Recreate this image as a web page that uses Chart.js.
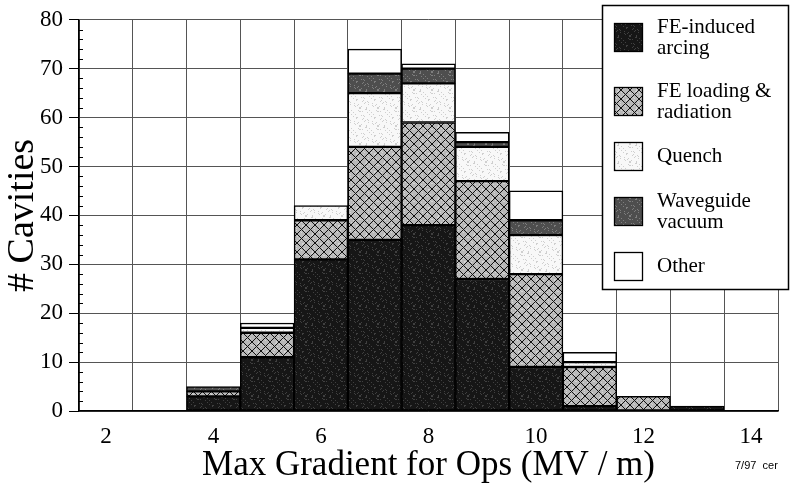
<!DOCTYPE html>
<html>
<head>
<meta charset="utf-8">
<script src="https://cdn.jsdelivr.net/npm/chart.js@4.4.1/dist/chart.umd.min.js"></script>
<style>
  html, body { margin: 0; padding: 0; background: #fff; }
  #wrap { width: 790px; height: 490px; position: relative; }
</style>
</head>
<body>
<div id="wrap"><canvas id="gradChart" width="790" height="490"></canvas></div>
<script>
// Histogram bins (MV/m) and cavity counts per failure mode
const gradients = ["2", "3", "4", "5", "6", "7", "8", "9", "10", "11", "12", "13", "14"];
const feArcing  = [0, 0, 3, 11, 31, 35, 38, 27, 9, 1, 0, 1, 0];
const feLoading = [0, 0, 1, 5, 8, 19, 21, 20, 19, 8, 3, 0, 0];
const quench    = [0, 0, 0, 1, 3, 11, 8, 7, 8, 1, 0, 0, 0];
const waveguide = [0, 0, 1, 0, 0, 4, 3, 1, 3, 0, 0, 0, 0];
const other     = [0, 0, 0, 1, 0, 5, 1, 2, 6, 2, 0, 0, 0];

const seriesNames = ["FE-induced arcing", "FE loading & radiation", "Quench", "Waveguide vacuum", "Other"];
const legendLines = [["FE-induced", "arcing"], ["FE loading &", "radiation"], ["Quench"], ["Waveguide", "vacuum"], ["Other"]];

const serif = "'Liberation Serif', 'Times New Roman', serif";

// small tiled fills that mimic the printed textures
function makePattern(base, speck, hatch) {
  const c = document.createElement("canvas");
  c.width = 18; c.height = 18;
  const g = c.getContext("2d");
  g.fillStyle = base;
  g.fillRect(0, 0, 18, 18);
  if (speck) {
    g.fillStyle = speck;
    for (let x = 0; x < 18; x++) {
      for (let y = 0; y < 18; y++) {
        if ((x * 37 + y * 91 + x * y * 13) % 17 < 2) g.fillRect(x, y, 1, 1);
      }
    }
  }
  if (hatch) {
    g.strokeStyle = hatch;
    g.lineWidth = 1;
    g.beginPath();
    for (let k = -18; k <= 18; k += 9) {
      g.moveTo(k - 1, -1); g.lineTo(k + 19, 19);
      g.moveTo(k - 1, 19); g.lineTo(k + 19, -1);
    }
    g.stroke();
  }
  return g.createPattern(c, "repeat");
}

const fills = [
  makePattern("#161616", "#404040"),
  makePattern("#b8b8b8", "#d4d4d4", "#111111"),
  makePattern("#f8f8f8", "#cfcfcf"),
  makePattern("#4e4e4e", "#7e7e7e"),
  "#ffffff"
];

const seriesData = [feArcing, feLoading, quench, waveguide, other];

// zero counts are left out so no empty outlines are drawn
const datasets = seriesData.map((vals, i) => ({
  label: seriesNames[i],
  data: vals.map((v) => (v === 0 ? null : v)),
  backgroundColor: fills[i],
  borderColor: "#000",
  borderWidth: 1.5,
  borderSkipped: false,
  barPercentage: 1.0,
  categoryPercentage: 1.0
}));

// minor tick marks on the inside of the y axis
const minorTicks = {
  id: "minorTicks",
  afterDatasetsDraw(chart) {
    const { ctx, scales: { y }, chartArea } = chart;
    ctx.save();
    ctx.strokeStyle = "#000";
    ctx.lineWidth = 1;
    for (let v = 2; v < 80; v += 2) {
      if (v % 10 === 0) continue;
      const py = Math.round(y.getPixelForValue(v)) + 0.5;
      ctx.beginPath();
      ctx.moveTo(chartArea.left, py);
      ctx.lineTo(chartArea.left + 4, py);
      ctx.stroke();
    }
    ctx.restore();
  }
};

// boxed legend sitting over the top right of the plot
const boxLegend = {
  id: "boxLegend",
  afterDraw(chart) {
    const ctx = chart.ctx;
    const tops = [23, 87, 142, 197, 252];
    ctx.save();
    ctx.fillStyle = "#fff";
    ctx.fillRect(602, 5, 187, 285);
    ctx.strokeStyle = "#000";
    ctx.lineWidth = 1.5;
    ctx.strokeRect(602.5, 5.5, 186, 284);
    ctx.font = "21px " + serif;
    ctx.textBaseline = "alphabetic";
    chart.data.datasets.forEach((ds, i) => {
      const t = tops[i];
      ctx.fillStyle = ds.backgroundColor;
      ctx.fillRect(614, t, 29, 29);
      ctx.lineWidth = 1.3;
      ctx.strokeStyle = "#000";
      ctx.strokeRect(614.5, t + 0.5, 28, 28);
      ctx.fillStyle = "#000";
      const lines = legendLines[i];
      if (lines.length === 2) {
        ctx.fillText(lines[0], 657, t + 10);
        ctx.fillText(lines[1], 657, t + 31);
      } else {
        ctx.fillText(lines[0], 657, t + 20);
      }
    });
    ctx.font = "11px 'Liberation Sans', Arial, sans-serif";
    ctx.fillText("7/97  cer", 735, 469);
    ctx.restore();
  }
};

const ctx = document.getElementById("gradChart").getContext("2d");
new Chart(ctx, {
  type: "bar",
  data: { labels: gradients, datasets: datasets },
  options: {
    responsive: false,
    animation: false,
    layout: { padding: { top: 17, right: 12, left: 0, bottom: 0 } },
    plugins: {
      legend: { display: false },
      tooltip: { enabled: false }
    },
    scales: {
      x: {
        stacked: true,
        offset: true,
        grid: { offset: true, color: "#555", lineWidth: 1, drawTicks: false },
        border: { color: "#000", width: 1.5 },
        ticks: {
          autoSkip: false,
          maxRotation: 0,
          padding: 12,
          color: "#000",
          font: { family: serif, size: 23 },
          callback: function (value) {
            const lbl = this.getLabelForValue(value);
            return Number(lbl) % 2 === 0 ? lbl : "";
          }
        },
        title: {
          display: true,
          text: "Max Gradient for Ops (MV / m)",
          color: "#000",
          font: { family: serif, size: 35, lineHeight: 1.2 },
          padding: { top: 0, bottom: 3 }
        },
        afterFit: (s) => { s.height = 79; }
      },
      y: {
        stacked: true,
        min: 0,
        max: 80,
        ticks: {
          stepSize: 10,
          padding: 6,
          color: "#000",
          font: { family: serif, size: 23 }
        },
        grid: { color: "#555", lineWidth: 1, tickLength: 10, tickColor: "#000" },
        border: { color: "#000", width: 1.5 },
        title: {
          display: true,
          text: "# Cavities",
          color: "#000",
          font: { family: serif, size: 38, lineHeight: 1.2 },
          padding: 0
        },
        afterFit: (s) => { s.width = 79; }
      }
    }
  },
  plugins: [minorTicks, boxLegend]
});
</script>
</body>
</html>
